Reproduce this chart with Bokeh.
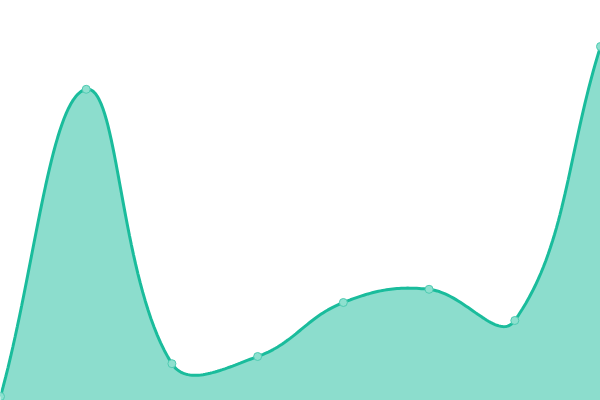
import numpy as np
from bokeh.plotting import figure
from bokeh.embed import file_html
from bokeh.resources import INLINE

# data
labels = ["A", "B", "C", "D", "E", "F", "G", "H"]
values = [1.0, 77.8, 9.2, 11.0, 24.5, 27.8, 20.0, 88.5]

W, H = 600, 400
Y0, Y1 = 0, 100
X0, X1 = 0, len(labels) - 1

p = figure(width=W, height=H, output_backend="svg", toolbar_location=None,
           x_range=(X0, X1), y_range=(Y0, Y1), min_border=0)
p.axis.visible = False
p.grid.visible = False
p.outline_line_color = None
p.background_fill_color = "white"
p.border_fill_color = "white"

xs = np.arange(len(labels), dtype=float)
ys = np.array(values, dtype=float)

# Chart.js-like spline (tension 0.4), computed in pixel space
sx = W / (X1 - X0)
sy = H / (Y1 - Y0)
px = (xs - X0) * sx
py = (ys - Y0) * sy
t = 0.4
n = len(px)
cp_prev = np.zeros((n, 2))
cp_next = np.zeros((n, 2))
for i in range(n):
    prev = (px[max(i - 1, 0)], py[max(i - 1, 0)])
    cur = (px[i], py[i])
    nxt = (px[min(i + 1, n - 1)], py[min(i + 1, n - 1)])
    d01 = np.hypot(cur[0] - prev[0], cur[1] - prev[1])
    d12 = np.hypot(nxt[0] - cur[0], nxt[1] - cur[1])
    tot = d01 + d12
    s01 = d01 / tot if tot else 0
    s12 = d12 / tot if tot else 0
    fa = t * s01
    fb = t * s12
    cp_prev[i] = (cur[0] - fa * (nxt[0] - prev[0]), cur[1] - fa * (nxt[1] - prev[1]))
    cp_next[i] = (cur[0] + fb * (nxt[0] - prev[0]), cur[1] + fb * (nxt[1] - prev[1]))
# cap to chart area
cp_prev[:, 1] = np.clip(cp_prev[:, 1], 0, H)
cp_next[:, 1] = np.clip(cp_next[:, 1], 0, H)
cp_prev[:, 0] = np.clip(cp_prev[:, 0], 0, W)
cp_next[:, 0] = np.clip(cp_next[:, 0], 0, W)

cx, cy = [], []
tt = np.linspace(0, 1, 40)
for i in range(n - 1):
    P0 = np.array([px[i], py[i]])
    P1 = cp_next[i]
    P2 = cp_prev[i + 1]
    P3 = np.array([px[i + 1], py[i + 1]])
    for k, u in enumerate(tt):
        if i > 0 and k == 0:
            continue
        b = ((1 - u) ** 3) * P0 + 3 * ((1 - u) ** 2) * u * P1 + 3 * (1 - u) * u * u * P2 + (u ** 3) * P3
        cx.append(b[0] / sx + X0)
        cy.append(b[1] / sy + Y0)

color = "#1abc9c"
p.varea(x=cx, y1=[Y0] * len(cx), y2=cy, fill_color=color, fill_alpha=0.5)
p.line(cx, cy, line_color=color, line_width=3)
p.scatter(xs, ys, size=8, fill_color="#8ee0cf", fill_alpha=1.0,
          line_color="#4fcbb2", line_width=1)

open("out.html", "w").write(file_html(p, INLINE))
